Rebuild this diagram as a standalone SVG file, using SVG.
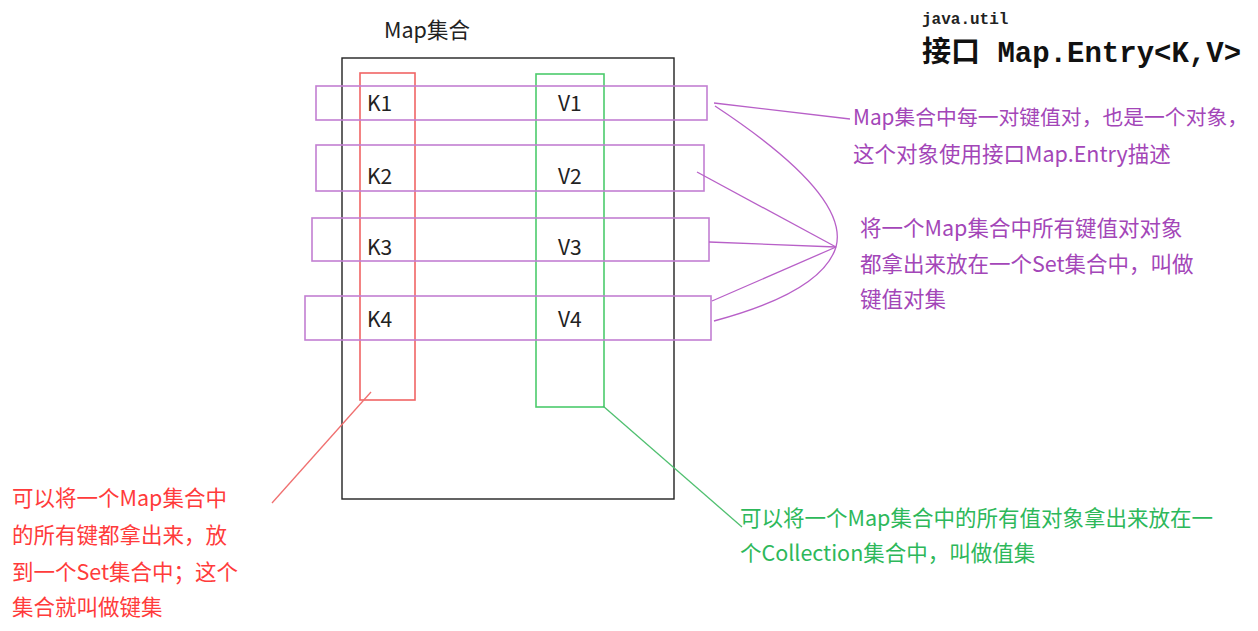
<svg xmlns="http://www.w3.org/2000/svg" width="1258" height="631" viewBox="0 0 1258 631">
<style>
.t{font-family:"Noto Sans CJK SC","Noto Sans",sans-serif;font-size:21.5px}
.kv{font-family:"Noto Sans CJK SC","Noto Sans",sans-serif;font-size:21px}
.k{fill:#222}
.p{fill:#A346B8}
.r{fill:#FF3B3B}
.g{fill:#2DB85A}
.pr{fill:none;stroke:#C27FD2;stroke-width:1.6}
.pl{fill:none;stroke:#B860C8;stroke-width:1.3}
</style>
<rect width="1258" height="631" fill="#fff"/>
<g id="title">
<text x="922" y="24" font-family="Liberation Mono,monospace" font-weight="bold" font-size="16" fill="#222">java.util</text>
<text x="922" y="62" font-family="Liberation Mono,'Noto Sans CJK SC',monospace" font-weight="bold" font-size="29" fill="#111">接口 Map.Entry&lt;K,V&gt;</text>
</g>
<g id="map">
<rect x="342" y="58" width="332" height="441" fill="none" stroke="#222" stroke-width="1.4"/>
<text class="t k" x="384" y="38">Map集合</text>
</g>
<g id="keys">
<rect x="360" y="73" width="55" height="327" fill="none" stroke="#F06464" stroke-width="1.6"/>
</g>
<g id="values">
<rect x="536" y="74" width="68" height="333" fill="none" stroke="#4CCB6C" stroke-width="1.6"/>
</g>
<g id="entry1">
<rect class="pr" x="316" y="86" width="391" height="34"/>
<text class="kv k" x="367" y="111">K1</text>
<text class="kv k" x="558" y="111">V1</text>
</g>
<g id="entry2">
<rect class="pr" x="316" y="145" width="388" height="46"/>
<text class="kv k" x="367" y="184">K2</text>
<text class="kv k" x="558" y="184">V2</text>
</g>
<g id="entry3">
<rect class="pr" x="312" y="218" width="397" height="43"/>
<text class="kv k" x="367" y="255">K3</text>
<text class="kv k" x="558" y="255">V3</text>
</g>
<g id="entry4">
<rect class="pr" x="305" y="296" width="406" height="44"/>
<text class="kv k" x="367" y="327">K4</text>
<text class="kv k" x="558" y="327">V4</text>
</g>
<g id="connectors">
<path class="pl" d="M714,103 L850,119"/>
<path class="pl" d="M715,106 Q850,195 836,247 Q822,292 714,321"/>
<path class="pl" d="M697,172 L836,247"/>
<path class="pl" d="M709,242 L836,247"/>
<path class="pl" d="M712,301 L836,247"/>
<path d="M371,392 L272,503" fill="none" stroke="#F07070" stroke-width="1.3"/>
<path d="M603,406 L742,527" fill="none" stroke="#50C070" stroke-width="1.3"/>
</g>
<g id="note-entry">
<text class="t p" x="853" y="125" style="font-size:20.8px">Map集合中每一对键值对，也是一个对象，</text>
<text class="t p" x="853" y="162">这个对象使用接口Map.Entry描述</text>
</g>
<g id="note-entryset">
<text class="t p" x="860" y="236">将一个Map集合中所有键值对对象</text>
<text class="t p" x="860" y="272">都拿出来放在一个Set集合中，叫做</text>
<text class="t p" x="860" y="307">键值对集</text>
</g>
<g id="note-keyset">
<text class="t r" x="12" y="506">可以将一个Map集合中</text>
<text class="t r" x="12" y="543">的所有键都拿出来，放</text>
<text class="t r" x="12" y="580">到一个Set集合中；这个</text>
<text class="t r" x="12" y="615">集合就叫做键集</text>
</g>
<g id="note-values">
<text class="t g" x="740" y="526">可以将一个Map集合中的所有值对象拿出来放在一</text>
<text class="t g" x="740" y="561">个Collection集合中，叫做值集</text>
</g>
</svg>
